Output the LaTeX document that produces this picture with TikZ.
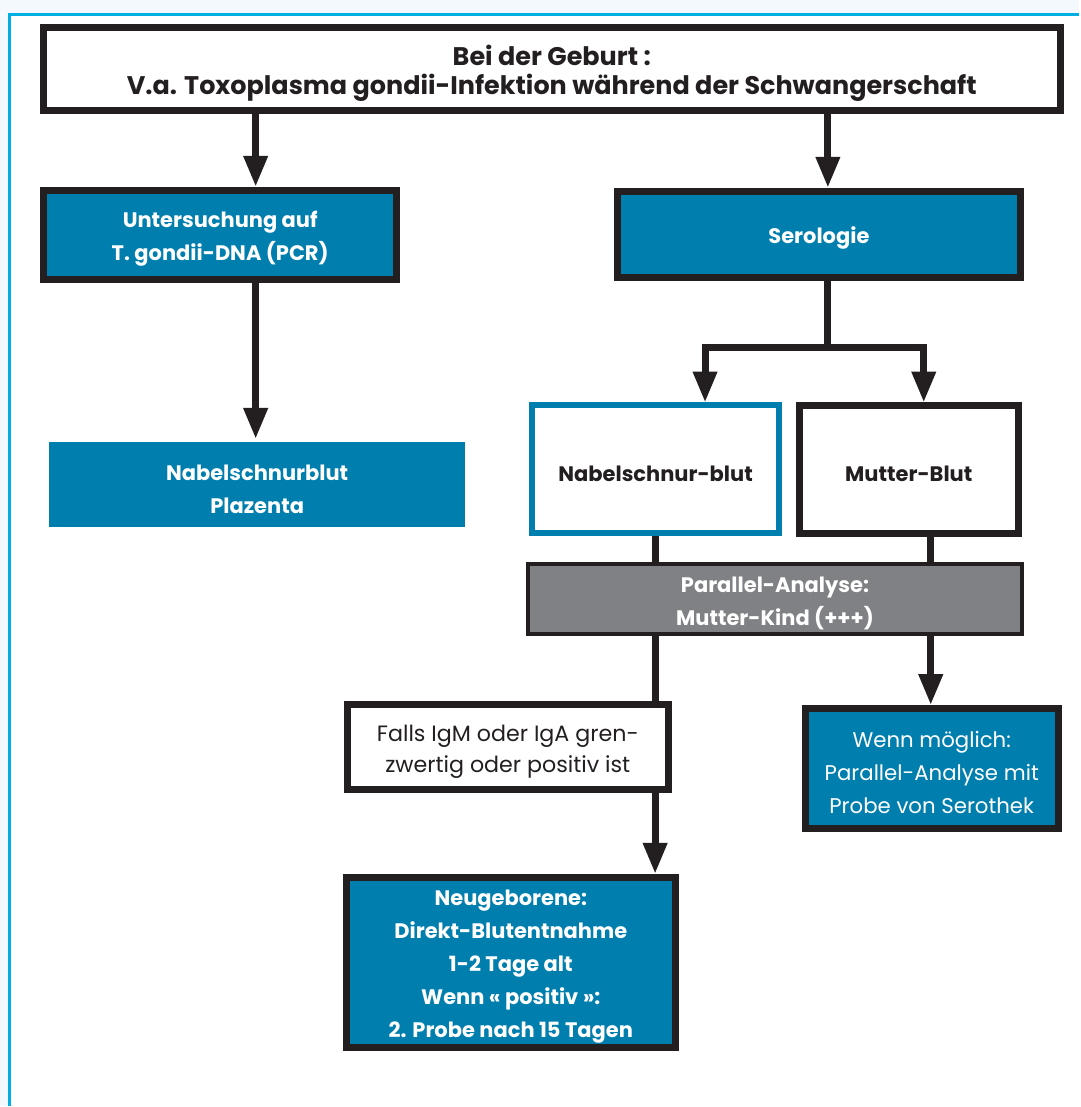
\documentclass[tikz,border=0pt]{standalone}
\usepackage{fontspec}
\setmainfont{Poppins}
\usetikzlibrary{arrows.meta}

\definecolor{boxblue}{RGB}{0,126,174}
\definecolor{ink}{RGB}{35,31,32}
\definecolor{panelgray}{RGB}{128,129,132}
\definecolor{framecyan}{RGB}{0,174,226}
\definecolor{pagetint}{RGB}{244,249,253}

% a taller first line sets the text a little lower inside its box
\newcommand{\dropstrut}{\rule{0pt}{1.15em}}

\tikzset{
  box/.style={rectangle, draw=ink, line width=7pt, inner sep=0pt, align=center},
  bluebox/.style={box, fill=boxblue, text=white, font=\fontsize{21}{33}\selectfont\bfseries},
  whitebox/.style={box, fill=white, text=ink},
  conn/.style={draw=ink, line width=7pt},
  arr/.style={conn, -{Triangle[length=31pt,width=23pt]}},
}

\begin{document}
\begin{tikzpicture}[x=1pt,y=-1pt]
  % page and frame
  \fill[pagetint] (0,0) rectangle (1080,1107);
  \fill[white] (10,15) rectangle (1080,1107);
  \draw[framecyan, line width=3pt] (10,1107) -- (10,15) -- (1080,15);
  \useasboundingbox (0,0) rectangle (1080,1107);

  % nodes
  \node[whitebox, minimum width=1018pt, minimum height=83pt,
        font=\fontsize{25.5}{29}\selectfont\bfseries] (top) at (552.5,69)
        {\dropstrut Bei der Geburt :\\V.a. Toxoplasma gondii-Infektion während der Schwangerschaft};

  \node[bluebox, minimum width=354pt, minimum height=89pt] (pcr) at (220.5,235)
        {\dropstrut Untersuchung auf\\T. gondii-DNA (PCR)};

  \node[bluebox, minimum width=403pt, minimum height=86pt] (sero) at (820,234.5)
        {\dropstrut Serologie};

  \node[bluebox, draw=none, minimum width=417pt, minimum height=85pt] (plaz) at (257.5,485.5)
        {\dropstrut Nabelschnurblut\\Plazenta};

  \node[whitebox, draw=boxblue, line width=6pt, minimum width=247pt, minimum height=128pt,
        font=\fontsize{21}{33}\selectfont\bfseries] (nab) at (656.5,470)
        {\dropstrut Nabelschnur-blut};

  \node[whitebox, minimum width=219pt, minimum height=128pt,
        font=\fontsize{21}{33}\selectfont\bfseries] (mut) at (910,470.5)
        {\dropstrut Mutter-Blut};

  \node[box, fill=panelgray, text=white, line width=4pt, minimum width=494pt, minimum height=70pt,
        font=\fontsize{21}{33}\selectfont\bfseries] (par) at (776,600)
        {\dropstrut Parallel-Analyse:\\Mutter-Kind (+++)};

  \node[whitebox, minimum width=322pt, minimum height=85pt,
        font=\fontsize{22.2}{31}\selectfont] (falls) at (508.5,748)
        {\dropstrut Falls IgM oder IgA gren-\\zwertig oder positiv ist};

  \node[bluebox, minimum width=330pt, minimum height=170pt] (neu) at (511.5,963.5)
        {\dropstrut Neugeborene:\\Direkt-Blutentnahme\\1-2 Tage alt\\Wenn « positiv »:\\2. Probe nach 15 Tagen};

  \node[bluebox, minimum width=253pt, minimum height=120pt,
        font=\fontsize{21.3}{33}\selectfont] (wenn) at (933,769.5)
        {\dropstrut Wenn möglich:\\Parallel-Analyse mit\\Probe von Serothek};

  % connector columns
  \coordinate (cA) at (256,0);
  \coordinate (cB) at (829,0);
  \coordinate (cL) at (706,0);
  \coordinate (cR) at (925,0);
  \coordinate (cK) at (656,0);
  \coordinate (cM) at (932,0);
  \coordinate (split) at (829,348);

  % connectors
  \draw[arr] (top.south -| cA) -- (pcr.north -| cA);
  \draw[arr] (top.south -| cB) -- (sero.north -| cB);
  \draw[arr] (pcr.south -| cA) -- (plaz.north -| cA);

  \draw[conn, line cap=rect] (sero.south -| split) -- (split);
  \draw[arr, line join=miter] (split) -| (nab.north -| cL);
  \draw[arr, line join=miter] (split) -| (mut.north -| cR);

  \draw[conn] (nab.south -| cK) -- (par.north -| cK);
  \draw[conn] (mut.south -| cM) -- (par.north -| cM);

  \draw[conn] (par.south -| cK) -- (falls.north -| cK);
  \draw[arr] (falls.south -| cK) -- (neu.north -| cK);
  \draw[arr] (par.south -| cM) -- (wenn.north -| cM);
\end{tikzpicture}
\end{document}
